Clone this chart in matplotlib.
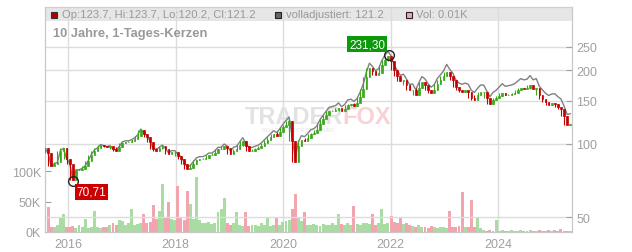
import numpy as np
import pandas as pd
import matplotlib
matplotlib.use("Agg")
import matplotlib.pyplot as plt
import matplotlib.dates as mdates
from matplotlib.patches import Rectangle

plt.rcParams['font.family'] = ['Liberation Sans', 'DejaVu Sans']

start = "2015-07-28"
step_days = 21
closes = [96, 92, 81, 83, 84, 94, 96, 87, 83, 71,
          78, 78, 79, 81, 85, 90, 94, 96, 99, 98,
          97, 98, 95, 94, 97, 101, 102, 102, 103, 105,
          108, 114, 110, 107, 102, 95, 94, 96, 98, 95,
          91, 93, 93, 89, 87, 83, 79, 80, 83, 86,
          87, 87, 88, 90, 90, 92, 95, 95, 98, 96,
          91, 94, 95, 99, 103, 98, 94, 94, 95, 96,
          98, 101, 104, 107, 110, 108, 112, 117, 120, 124,
          103, 84, 98, 104, 103, 106, 110, 111, 114, 121,
          126, 131, 136, 137, 138, 141, 136, 139, 145, 146,
          143, 147, 156, 168, 188, 205, 199, 191, 195, 210,
          221, 229, 218, 200, 190, 181, 183, 175, 166, 167,
          158, 169, 179, 175, 167, 162, 166, 176, 182, 189,
          198, 189, 182, 171, 166, 164, 166, 164, 155, 152,
          158, 163, 163, 154, 146, 152, 155, 157, 162, 158,
          159, 160, 162, 166, 170, 168, 169, 175, 168, 170,
          158, 153, 148, 145, 147, 146, 142, 139, 130, 120,
          121]
volumes_k = [9, 41, 9, 8, 12, 25, 30, 9, 8, 10,
             7, 12, 8, 22, 7, 9, 35, 8, 7, 9,
             8, 12, 14, 12, 19, 18, 12, 14, 37, 12,
             13, 15, 30, 14, 16, 44, 22, 35, 79, 24,
             49, 22, 20, 75, 24, 20, 67, 46, 22, 90,
             20, 15, 14, 16, 13, 15, 33, 38, 55, 14,
             12, 14, 33, 11, 10, 33, 10, 12, 11, 10,
             14, 11, 25, 10, 12, 25, 12, 16, 18, 20,
             38, 63, 25, 18, 33, 12, 11, 13, 12, 10,
             13, 11, 12, 14, 11, 30, 13, 12, 14, 11,
             43, 13, 12, 14, 15, 13, 30, 12, 14, 37,
             13, 15, 27, 16, 14, 23, 13, 15, 12, 10,
             9, 11, 8, 9, 7, 10, 8, 7, 9, 8,
             7, 34, 9, 8, 10, 66, 9, 8, 52, 9,
             23, 6, 3, 2, 3, 2, 20, 2, 3, 2,
             2, 3, 2, 2, 3, 2, 2, 4, 2, 2,
             3, 2, 2, 4, 2, 3, 2, 5, 2, 2,
             2]
# ratio of the grey "volladjustiert" line to the candles, per year
adj_ratio = {2015: 1.00, 2016: 1.005, 2017: 1.01, 2018: 1.02, 2019: 1.03,
             2020: 1.04, 2021: 1.045, 2022: 1.055, 2023: 1.07, 2024: 1.09,
             2025: 1.10}
price_ticks = [50, 100, 150, 200, 250]
vol_ticks = [0, 50, 100]
vol_labels = ["0K", "50K", "100K"]
year_ticks = [2016, 2018, 2020, 2022, 2024]
high_date, high_val, high_label = "2021-12-22", 231.3, "231,30"
low_date, low_val, low_label = "2016-02-06", 70.71, "70,71"

dates = pd.date_range(start, periods=len(closes), freq=f"{step_days}D")
closes = np.array(closes, float)
opens = np.r_[closes[0], closes[:-1]]
nexts = np.r_[closes[1:], closes[-1]]
up = closes >= opens
adj = closes * np.array([adj_ratio[d.year] for d in dates])
# wick covers the move into the next sample
lows = np.minimum(np.minimum(opens, closes), nexts)
highs = np.maximum(np.maximum(opens, closes), nexts)

W, H = 632, 253
fig = plt.figure(figsize=(W / 100, H / 100), dpi=100)
L, R, T, B = 45, 572, 8, 233
ax = fig.add_axes([L / W, 1 - B / H, (R - L) / W, (B - T) / H])
ax2 = ax.twinx()

x0, x1 = pd.Timestamp("2015-07-28"), pd.Timestamp("2025-05-18")

# volume (left axis)
vcol = np.where(up, "#a9dca2", "#f2a5ae")
ax.bar(dates, volumes_k, width=20, color=vcol, linewidth=0, zorder=2)
ax.set_ylim(0, 369)
ax.set_xlim(x0, x1)
ax.set_yticks(vol_ticks)
ax.set_yticklabels(vol_labels)

# grid + header band
gc = "#dcdcdc"
for yr in year_ticks:
    ax.axvline(pd.Timestamp(f"{yr}-01-01"), color=gc, lw=1, zorder=1)
hb = (B - 22) / (B - T)
ax.add_patch(Rectangle((0, hb), 1, 1 - hb, transform=ax.transAxes,
                       color="#e6e6e6", zorder=0.5, lw=0))

# price (right axis, log)
ax2.set_yscale("log")
ax2.set_ylim(43.6, 364)
ax2.set_xlim(x0, x1)
for p in price_ticks:
    ax2.axhline(p, color=gc, lw=1, zorder=1)
ax2.plot(dates, adj, color="#808080", lw=1, zorder=3)
ccol = np.where(up, "#3aa81c", "#c40000")
ax2.vlines(dates, lows, highs, colors=ccol, lw=0.8, zorder=4)
ax2.bar(dates, closes - opens, bottom=opens, width=11, color=ccol,
        linewidth=0.5, edgecolor=ccol, zorder=4)
ax2.yaxis.set_major_locator(matplotlib.ticker.FixedLocator(price_ticks))
ax2.yaxis.set_minor_locator(matplotlib.ticker.NullLocator())
ax2.yaxis.set_major_formatter(matplotlib.ticker.FixedFormatter([str(p) for p in price_ticks]))

# markers
hd, ld = pd.Timestamp(high_date), pd.Timestamp(low_date)
ax2.plot([hd, ld], [high_val, low_val], "o", ms=7, mfc="none", mec="#222222",
         mew=1, zorder=6)
ax2.annotate(high_label, (hd, high_val), xytext=(-22, 11), textcoords="offset pixels",
             ha="center", va="center", color="white", fontsize=8.5, zorder=7,
             bbox=dict(boxstyle="square,pad=0.15", fc="#0a9a0a", ec="none"))
ax2.annotate(low_label, (ld, low_val), xytext=(18, -11), textcoords="offset pixels",
             ha="center", va="center", color="white", fontsize=8.5, zorder=7,
             bbox=dict(boxstyle="square,pad=0.15", fc="#cc0000", ec="none"))

# axis styling
tc = "#a0a0a0"
for a in (ax, ax2):
    for s in a.spines.values():
        s.set_color("#c8c8c8")
    a.spines["top"].set_color("#d0d0d0")
ax.xaxis.set_major_locator(mdates.YearLocator(2))
ax.xaxis.set_major_formatter(mdates.DateFormatter("%Y"))
ax.tick_params(axis="x", length=0, labelsize=9, colors=tc, pad=4)
ax.tick_params(axis="y", direction="in", length=4, labelsize=9, colors=tc, pad=3)
ax2.tick_params(axis="y", direction="in", length=4, labelsize=9, colors=tc, pad=3)
ax2.tick_params(axis="x", length=0, labelbottom=False)
ax2.patch.set_visible(False)

# watermark
ax.text(0.565, 0.515, "TRADER", transform=ax.transAxes, ha="right", va="center",
        fontsize=17, fontweight="bold", color="#e2e2e2", zorder=1.5)
ax.text(0.565, 0.515, "FOX", transform=ax.transAxes, ha="left", va="center",
        fontsize=17, fontweight="bold", color="#f9d2d6", zorder=1.5)
ax.text(0.48, 0.455, "REALTIME STOCK SCREENING", transform=ax.transAxes,
        ha="center", va="center", fontsize=3.5, color="#e2e2e2", zorder=1.5)

# header legend
def fx(x):
    return x / W

def fy(y):
    return 1 - y / H

hdr_y = fy(15.5)
items = [(50.5, "#b00000", "#333333", "Op:123.7, Hi:123.7, Lo:120.2, Cl:121.2"),
         (274.5, "#666666", "#222222", "volladjustiert: 121.2"),
         (405.5, "#f2a5ae", "#222222", "Vol: 0.01K")]
for xs, fc, ec, txt in items:
    fig.patches.append(Rectangle((fx(xs), fy(18.5)), 6 / W, 6 / H, transform=fig.transFigure,
                                 fc=fc, ec=ec, lw=0.8, figure=fig))
    fig.text(fx(xs + 11), hdr_y, txt, ha="left", va="center", fontsize=8.1, color="#999999")

fig.text(fx(53), fy(33.5), "10 Jahre, 1-Tages-Kerzen", ha="left", va="center",
         fontsize=9.3, fontweight="bold", color="#999999")

fig.savefig("out.png", dpi=100)
